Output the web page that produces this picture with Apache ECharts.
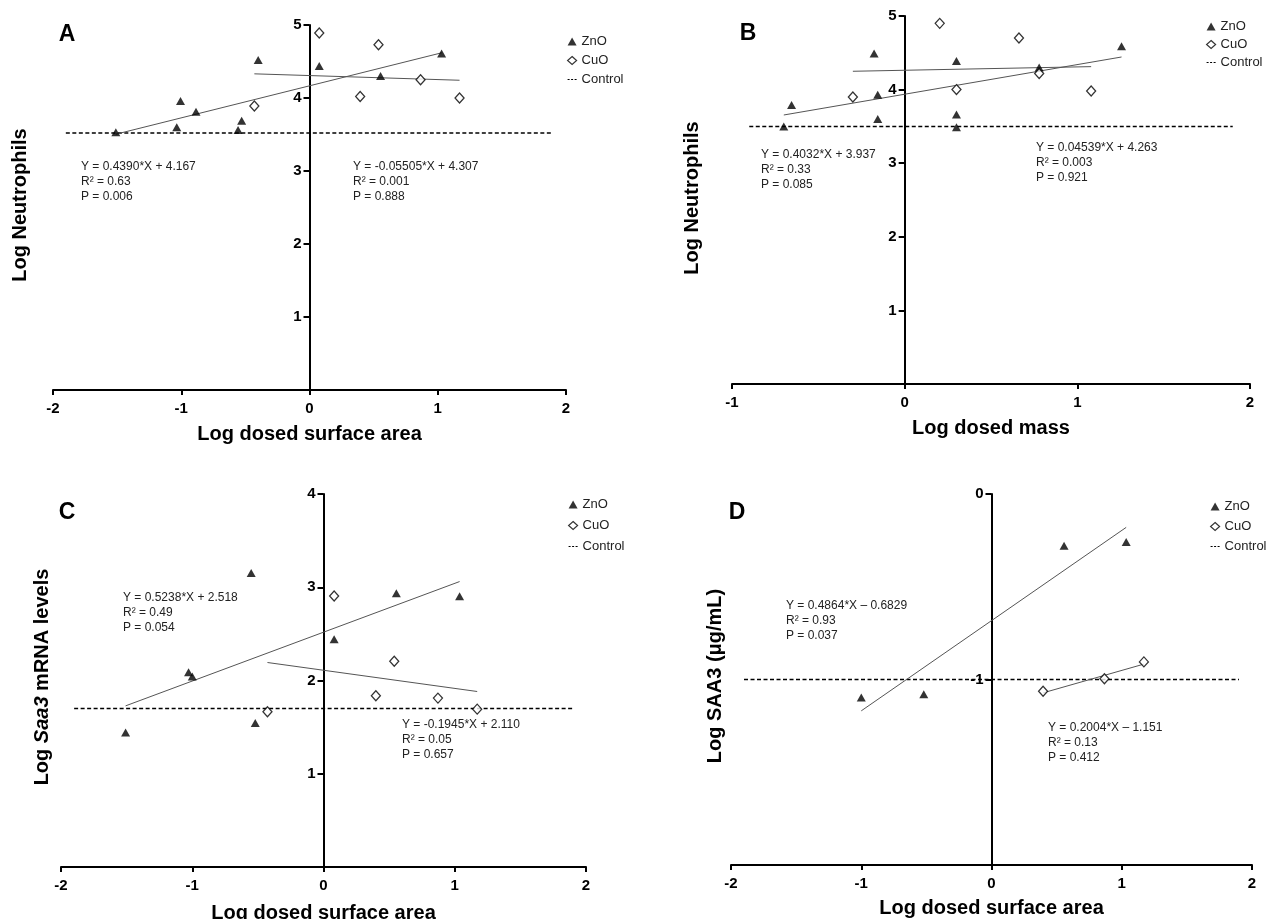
<!DOCTYPE html>
<html>
<head>
<meta charset="utf-8">
<script src="https://cdn.jsdelivr.net/npm/echarts@6/dist/echarts.min.js"></script>
<style>html,body{margin:0;padding:0;background:#fff;}#chart{width:1268px;height:919px;}</style>
</head>
<body>
<div id="chart"></div>
<script>
// ---------------- DATA ----------------
const panelA_ZnO = [[-1.51,3.53],[-1.035,3.60],[-1.006,3.96],[-0.885,3.81],[-0.557,3.56],[-0.529,3.69],[-0.40,4.52],[0.076,4.44],[0.554,4.30],[1.03,4.61]];
const panelA_CuO = [[-0.43,3.89],[0.076,4.89],[0.395,4.02],[0.538,4.73],[0.866,4.25],[1.17,4.00]];
const panelA_ZnO_fit = [[-1.51,3.504],[1.03,4.619]];
const panelA_CuO_fit = [[-0.43,4.331],[1.17,4.243]];
const panelA_control = [[-1.9,3.52],[1.9,3.52]];

const panelB_ZnO = [[-0.70,3.50],[-0.655,3.79],[-0.177,4.49],[-0.156,3.93],[-0.156,3.60],[0.30,4.39],[0.30,3.66],[0.30,3.49],[0.779,4.30],[1.256,4.59]];
const panelB_CuO = [[-0.30,3.90],[0.203,4.90],[0.30,4.00],[0.662,4.70],[0.779,4.22],[1.08,3.98]];
const panelB_ZnO_fit = [[-0.70,3.655],[1.256,4.443]];
const panelB_CuO_fit = [[-0.30,4.249],[1.08,4.312]];
const panelB_control = [[-0.9,3.50],[1.9,3.50]];

const panelC_ZnO = [[-1.508,1.443],[-1.028,2.089],[-1.0,2.043],[-0.551,3.154],[-0.52,1.543],[0.081,2.443],[0.555,2.936],[1.037,2.904]];
const panelC_CuO = [[-0.427,1.664],[0.081,2.907],[0.399,1.836],[0.539,2.207],[0.872,1.811],[1.171,1.693]];
const panelC_ZnO_fit = [[-1.508,1.728],[1.037,3.061]];
const panelC_CuO_fit = [[-0.427,2.193],[1.171,1.882]];
const panelC_control = [[-1.9,1.70],[1.9,1.70]];

const panelD_ZnO = [[-1.0,-1.097],[-0.52,-1.079],[0.557,-0.279],[1.034,-0.259]];
const panelD_CuO = [[0.396,-1.063],[0.867,-0.996],[1.170,-0.905]];
const panelD_ZnO_fit = [[-1.0,-1.169],[1.034,-0.180]];
const panelD_CuO_fit = [[0.396,-1.072],[1.170,-0.917]];
const panelD_control = [[-1.9,-1.0],[1.9,-1.0]];

const xRanges = [[-2,2],[-1,2],[-2,2],[-2,2]];
const yRanges = [[0,5],[0,5],[0,4],[-2,0]];
const xTitles = ['Log dosed surface area','Log dosed mass','Log dosed surface area','Log dosed surface area'];
const yTitles = ['Log Neutrophils','Log Neutrophils','Log {i|Saa3} mRNA levels','Log SAA3 (μg/mL)'];
const panelLetters = ['A','B','C','D'];
const legendNames = ['ZnO','CuO','Control'];

const statsA_ZnO = ['Y = 0.4390*X + 4.167','R² = 0.63','P = 0.006'];
const statsA_CuO = ['Y = -0.05505*X + 4.307','R² = 0.001','P = 0.888'];
const statsB_ZnO = ['Y = 0.4032*X + 3.937','R² = 0.33','P = 0.085'];
const statsB_CuO = ['Y = 0.04539*X + 4.263','R² = 0.003','P = 0.921'];
const statsC_ZnO = ['Y = 0.5238*X + 2.518','R² = 0.49','P = 0.054'];
const statsC_CuO = ['Y = -0.1945*X + 2.110','R² = 0.05','P = 0.657'];
const statsD_ZnO = ['Y = 0.4864*X – 0.6829','R² = 0.93','P = 0.037'];
const statsD_CuO = ['Y = 0.2004*X – 1.151','R² = 0.13','P = 0.412'];

// ---------------- LAYOUT ----------------
const FONT = '"Liberation Sans", Arial, Helvetica, sans-serif';
const grids = [
  {left:53, top:25, width:513, height:365},
  {left:732, top:16, width:518, height:368},
  {left:61, top:494, width:525, height:373},
  {left:731, top:494, width:521, height:371}
];
const xNameGaps = [34,34,36,33];
const yTitlePos = [[20,205],[692,198],[42,677],[715,676]];
const letterPos = [[67,35],[748,34],[67,513],[737,513]];
const legendPos = [[567,35,6],[1206,20,5],[568,498,8],[1210,500,7]];
const statsPos = [
  [[81,159],[353,159]],
  [[761,147],[1036,140]],
  [[123,590],[402,717]],
  [[786,598],[1048,720]]
];

const panels = [
  {zno:panelA_ZnO, cuo:panelA_CuO, znoFit:panelA_ZnO_fit, cuoFit:panelA_CuO_fit, ctrl:panelA_control, stats:[statsA_ZnO,statsA_CuO]},
  {zno:panelB_ZnO, cuo:panelB_CuO, znoFit:panelB_ZnO_fit, cuoFit:panelB_CuO_fit, ctrl:panelB_control, stats:[statsB_ZnO,statsB_CuO]},
  {zno:panelC_ZnO, cuo:panelC_CuO, znoFit:panelC_ZnO_fit, cuoFit:panelC_CuO_fit, ctrl:panelC_control, stats:[statsC_ZnO,statsC_CuO]},
  {zno:panelD_ZnO, cuo:panelD_CuO, znoFit:panelD_ZnO_fit, cuoFit:panelD_CuO_fit, ctrl:panelD_control, stats:[statsD_ZnO,statsD_CuO]}
];

const xAxes = [], yAxes = [], series = [], legends = [], graphics = [];
panels.forEach((p, i) => {
  const xr = xRanges[i];
  // y axis drawn where x = 0 (offset from grid's left edge)
  const zeroOffset = -grids[i].width * (0 - xr[0]) / (xr[1] - xr[0]);
  xAxes.push({
    type:'value', gridIndex:i, min:xr[0], max:xr[1], interval:1,
    name:xTitles[i], nameLocation:'middle', nameGap:xNameGaps[i],
    nameTextStyle:{fontSize:20, fontWeight:'bold', color:'#000', fontFamily:FONT},
    axisLine:{onZero:false, lineStyle:{color:'#000', width:2}},
    axisTick:{show:true, length:5, lineStyle:{color:'#000', width:2}},
    axisLabel:{margin:11, fontSize:15, fontWeight:'bold', color:'#000', fontFamily:FONT},
    splitLine:{show:false}
  });
  yAxes.push({
    type:'value', gridIndex:i, min:yRanges[i][0], max:yRanges[i][1], interval:1,
    position:'left', offset:zeroOffset,
    axisLine:{onZero:false, lineStyle:{color:'#000', width:2}},
    axisTick:{show:true, length:6, lineStyle:{color:'#000', width:2}},
    axisLabel:{margin:8, showMinLabel:false, fontSize:15, fontWeight:'bold', color:'#000', fontFamily:FONT},
    splitLine:{show:false}
  });
  series.push({type:'line', name:'Control', xAxisIndex:i, yAxisIndex:i, data:p.ctrl, symbol:'none',
    lineStyle:{color:'#000', width:1.5, type:[4,2.5]}, z:2, silent:true});
  series.push({type:'line', name:'ZnO fit', xAxisIndex:i, yAxisIndex:i, data:p.znoFit, symbol:'none',
    lineStyle:{color:'#555', width:1}, z:3, silent:true});
  series.push({type:'line', name:'CuO fit', xAxisIndex:i, yAxisIndex:i, data:p.cuoFit, symbol:'none',
    lineStyle:{color:'#555', width:1}, z:3, silent:true});
  series.push({type:'scatter', name:'ZnO', xAxisIndex:i, yAxisIndex:i, data:p.zno, symbol:'triangle',
    symbolSize:[9,8], itemStyle:{color:'#000'}, z:5});
  series.push({type:'scatter', name:'CuO', xAxisIndex:i, yAxisIndex:i, data:p.cuo, symbol:'diamond',
    symbolSize:[9,10], itemStyle:{color:'#fff', borderColor:'#000', borderWidth:1.3}, z:5});

  legends.push({
    orient:'vertical', left:legendPos[i][0], top:legendPos[i][1], itemGap:legendPos[i][2],
    itemWidth:9, itemHeight:8, itemTextGap:5, selectedMode:false, padding:0,
    textStyle:{fontSize:13, color:'#222', fontFamily:FONT},
    data:[
      {name:legendNames[0], icon:'triangle', itemStyle:{color:'#000'}},
      {name:legendNames[1], icon:'diamond', itemStyle:{color:'#fff', borderColor:'#000', borderWidth:1.2}},
      {name:legendNames[2], itemStyle:{opacity:0}, lineStyle:{color:'#000', width:1.2, type:[2,1.5]}}
    ]
  });

  graphics.push({type:'text', x:letterPos[i][0], y:letterPos[i][1],
    style:{text:panelLetters[i], font:'bold 23px ' + FONT, fill:'#000', textAlign:'center', textVerticalAlign:'middle'}});
  graphics.push({type:'text', x:yTitlePos[i][0], y:yTitlePos[i][1], rotation:Math.PI/2,
    style:{text:yTitles[i], font:'bold 20px ' + FONT, fill:'#000', textAlign:'center', textVerticalAlign:'middle',
      rich:{i:{fontStyle:'italic', fontWeight:'bold', fontSize:20, fontFamily:FONT}}}});
  p.stats.forEach((s, k) => {
    graphics.push({type:'text', x:statsPos[i][k][0], y:statsPos[i][k][1],
      style:{text:s.join('\n'), font:'12px ' + FONT, fill:'#222', lineHeight:15, textAlign:'left', textVerticalAlign:'top'}});
  });
});

const chart = echarts.init(document.getElementById('chart'), null, {renderer:'canvas'});
chart.setOption({
  animation:false,
  backgroundColor:'#fff',
  textStyle:{fontFamily:FONT},
  grid:grids.map(g => Object.assign({containLabel:false, outerBoundsMode:'none'}, g)),
  xAxis:xAxes,
  yAxis:yAxes,
  legend:legends,
  series:series,
  graphic:graphics
});
</script>
</body>
</html>
